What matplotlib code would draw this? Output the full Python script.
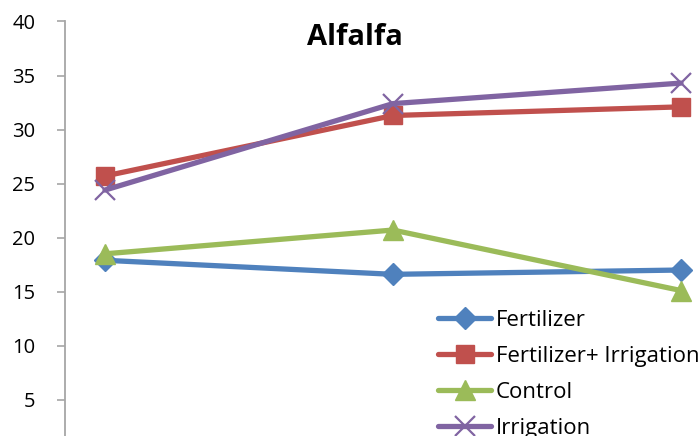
import matplotlib
matplotlib.use("Agg")
import matplotlib.pyplot as plt

# sampling occasions along the season
occasions = [1, 2, 3]

series_names = ["Fertilizer", "Fertilizer+ Irrigation", "Control", "Irrigation"]
fertilizer = [17.9, 16.6, 17.0]
fert_irrigation = [25.7, 31.3, 32.1]
control = [18.5, 20.7, 15.1]
irrigation = [24.4, 32.4, 34.3]

yticks = [5, 10, 15, 20, 25, 30, 35, 40]

C_BLUE = "#4F81BD"
C_RED = "#C0504D"
C_GREEN = "#9BBB59"
C_PURPLE = "#8064A2"

plt.rcParams["font.family"] = ["Open Sans", "DejaVu Sans"]

fig = plt.figure(figsize=(6.98, 4.36), dpi=100)
# bottom of the value axis sits below the lower edge of the figure
ax = fig.add_axes([65 / 698, -0.0406, 633 / 698, 0.9913])

styles = [
    (fertilizer, C_BLUE, dict(marker="D", ms=11)),
    (fert_irrigation, C_RED, dict(marker="s", ms=13)),
    (control, C_GREEN, dict(marker="^", ms=14)),
    (irrigation, C_PURPLE, dict(marker="x", ms=14, mew=1.6)),
]
for (vals, col, mk), name in zip(styles, series_names):
    ax.plot(occasions, vals, color=col, lw=3.8, label=name,
            solid_capstyle="round", solid_joinstyle="round",
            markerfacecolor=col, markeredgecolor=col, **mk)

ax.set_xlim(1 - 40 / 288, 3 + 17 / 288)
ax.set_ylim(0, 40)
ax.set_yticks(yticks)
ax.set_xticks([])

for side in ("top", "right", "bottom"):
    ax.spines[side].set_visible(False)
ax.spines["left"].set_color("#a6a6a6")
ax.spines["left"].set_linewidth(1.3)
ax.tick_params(axis="y", direction="out", length=5.5, width=1.2,
               color="#a6a6a6", labelsize=14.5, pad=16, labelcolor="black")

fig.text(355 / 698, 1 - 45 / 436, "Alfalfa", ha="center", va="baseline",
         fontsize=21, fontweight="bold")

fig.legend(loc="upper left", bbox_to_anchor=(438 / 698, 1 - 310 / 436),
           frameon=False, fontsize=16, borderpad=0, borderaxespad=0,
           handlelength=2.4, handletextpad=0.2, labelspacing=0.67)

fig.savefig("out.png", dpi=100)
